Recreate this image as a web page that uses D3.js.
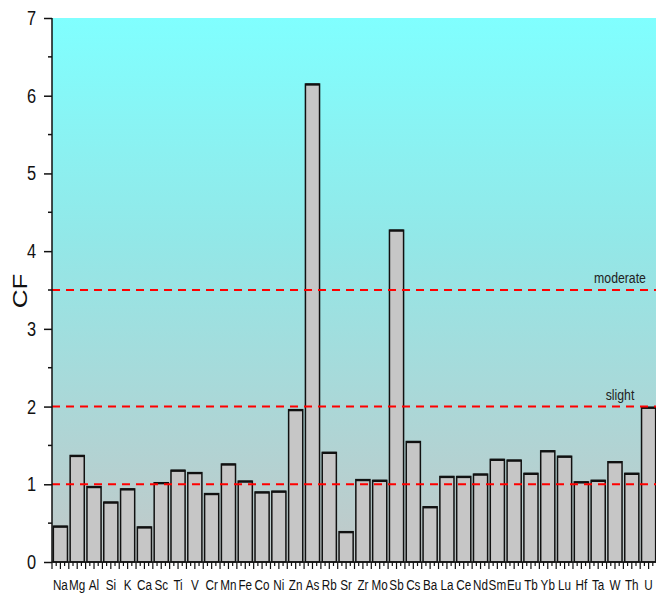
<!DOCTYPE html>
<html>
<head>
<meta charset="utf-8">
<script src="https://cdn.jsdelivr.net/npm/d3@7"></script>
<style>
  body { margin: 0; background: #fff; }
  svg { display: block; font-family: Arial, "Liberation Sans", sans-serif; }
</style>
</head>
<body>
<svg id="chart" width="656" height="596"></svg>
<script>
// 元素
const elements = ['Na', 'Mg', 'Al', 'Si', 'K', 'Ca', 'Sc', 'Ti', 'V', 'Cr', 'Mn', 'Fe', 'Co', 'Ni', 'Zn', 'As', 'Rb', 'Sr', 'Zr', 'Mo',
    'Sb', 'Cs', 'Ba', 'La', 'Ce', 'Nd', 'Sm', 'Eu', 'Tb', 'Yb', 'Lu', 'Hf', 'Ta', 'W', 'Th', 'U'];
// CF 值
const cfValues = [0.46, 1.37, 0.97, 0.77, 0.94, 0.45, 1.02, 1.18, 1.15, 0.88, 1.26, 1.04, 0.90, 0.91, 1.96, 6.15, 1.41, 0.39, 1.06, 1.05,
    4.27, 1.55, 0.71, 1.10, 1.10, 1.13, 1.32, 1.31, 1.14, 1.43, 1.36, 1.03, 1.05, 1.29, 1.14, 1.99];
// 参考线
const refValues = [1, 2, 3.5];
const refLabels = [{ v: 3.5, text: 'moderate' }, { v: 2, text: 'slight' }];
const yTicks = [0, 1, 2, 3, 4, 5, 6, 7];

const margin = { left: 52, right: -1, top: 18, bottom: 34 };
const W = 656, H = 596;
const squeeze = 0.78; // 原图文字横向压缩

const svg = d3.select('#chart');

const x = d3.scaleBand()
    .domain(elements)
    .range([margin.left, W - margin.right])
    .paddingInner(0.16)
    .paddingOuter(0.08);
const y = d3.scaleLinear().domain([0, 7]).range([H - margin.bottom, margin.top]);

// 背景渐变
const grad = svg.append('defs').append('linearGradient')
    .attr('id', 'bg').attr('x1', 0).attr('y1', 0).attr('x2', 0).attr('y2', 1);
grad.append('stop').attr('offset', '0%').attr('stop-color', '#80ffff');
grad.append('stop').attr('offset', '40%').attr('stop-color', '#92e8e8');
grad.append('stop').attr('offset', '100%').attr('stop-color', '#c2c8c8');

svg.append('rect')
    .attr('x', margin.left).attr('y', y(7))
    .attr('width', W - margin.left).attr('height', y(0) - y(7))
    .attr('fill', 'url(#bg)');

// 柱子
const bars = svg.append('g');
bars.selectAll('rect')
    .data(elements)
    .join('rect')
    .attr('x', d => x(d))
    .attr('y', (d, i) => y(cfValues[i]))
    .attr('width', x.bandwidth())
    .attr('height', (d, i) => y(0) - y(cfValues[i]))
    .attr('fill', '#c6c6c6')
    .attr('stroke', '#111')
    .attr('stroke-width', 1.5);
// 柱顶加粗
bars.selectAll('line')
    .data(elements)
    .join('line')
    .attr('x1', d => x(d)).attr('x2', d => x(d) + x.bandwidth())
    .attr('y1', (d, i) => y(cfValues[i]) + 0.5).attr('y2', (d, i) => y(cfValues[i]) + 0.5)
    .attr('stroke', '#111').attr('stroke-width', 2.2);

// 参考线
svg.append('g').selectAll('line')
    .data(refValues)
    .join('line')
    .attr('x1', margin.left).attr('x2', W)
    .attr('y1', d => y(d)).attr('y2', d => y(d))
    .attr('stroke', '#ff0000')
    .attr('stroke-width', 2)
    .attr('stroke-dasharray', '8,6');

svg.append('g').selectAll('text')
    .data(refLabels)
    .join('text')
    .attr('transform', d => `translate(620,${y(d.v) - 7}) scale(${squeeze * 1.05},1)`)
    .attr('text-anchor', 'middle')
    .attr('font-size', 15)
    .attr('fill', '#222')
    .text(d => d.text);

// y 轴
const yAxis = svg.append('g')
    .attr('transform', `translate(${margin.left},0)`)
    .call(d3.axisLeft(y).tickValues(yTicks).tickSize(8).tickFormat(''));
yAxis.selectAll('line, path').attr('stroke', '#111').attr('stroke-width', 1.5);
yAxis.select('.domain').attr('d', `M0,${y(7)}V${y(0)}`);
svg.append('g').selectAll('text')
    .data(yTicks)
    .join('text')
    .attr('transform', d => `translate(36,${y(d) + 7}) scale(${squeeze},1)`)
    .attr('text-anchor', 'end')
    .attr('font-size', 21)
    .attr('fill', '#111')
    .text(d => d);
// 次刻度
svg.append('g').selectAll('line')
    .data(d3.range(0.5, 7, 1))
    .join('line')
    .attr('x1', margin.left - 4).attr('x2', margin.left)
    .attr('y1', d => y(d)).attr('y2', d => y(d))
    .attr('stroke', '#111').attr('stroke-width', 1.5);

svg.append('text')
    .attr('transform', `translate(27,${(y(0) + y(7)) / 2 + 1}) scale(0.75,1) rotate(-90)`)
    .attr('text-anchor', 'middle')
    .attr('font-size', 26)
    .attr('fill', '#111')
    .text('CF');

// x 轴
const xAxis = svg.append('g')
    .attr('transform', `translate(0,${y(0)})`)
    .call(d3.axisBottom(x).tickSize(0).tickFormat(''));
xAxis.select('.domain').attr('d', `M${margin.left},0H${W}`).attr('stroke', '#111').attr('stroke-width', 1.5);
svg.append('g').selectAll('text')
    .data(elements)
    .join('text')
    .attr('transform', d => `translate(${x(d) + x.bandwidth() / 2},${y(0) + 28}) scale(${squeeze},1)`)
    .attr('text-anchor', 'middle')
    .attr('font-size', 15)
    .attr('fill', '#111')
    .text(d => d);

// x 轴小刻度
const step = x.step();
const x0 = x(elements[0]) - step * x.paddingOuter();
const xTickPos = d3.range(0, elements.length * 4 + 1).map(k => ({ k, pos: x0 + k * step / 4 }));
svg.append('g').selectAll('line')
    .data(xTickPos.filter(d => d.pos <= W))
    .join('line')
    .attr('x1', d => d.pos).attr('x2', d => d.pos)
    .attr('y1', y(0)).attr('y2', d => y(0) + (d.k % 2 === 0 ? 7 : 4))
    .attr('stroke', '#111').attr('stroke-width', 1.2);
</script>
</body>
</html>
